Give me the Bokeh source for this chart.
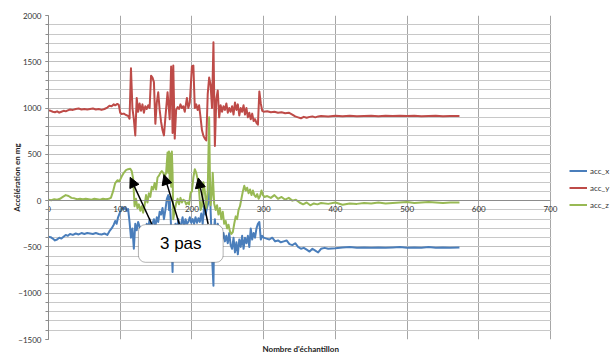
from bokeh.plotting import figure
from bokeh.models import (Range1d, SingleIntervalTicker, BoxAnnotation, Label,
                          Arrow, NormalHead, Title, Legend, LegendItem)
from bokeh.embed import file_html
from bokeh.resources import INLINE

# ---------------- data ----------------
acc_x_idx = [0, 3, 6, 9, 12, 15, 18, 21, 24, 27, 30, 34, 38, 42, 46, 50, 54, 58, 62, 66, 70, 74, 78, 82, 85, 88, 91, 93, 95, 97, 99,
             101, 103, 105, 107, 109, 111, 113, 115, 117, 119, 121, 123, 125, 127, 129, 131, 133, 135, 137, 139, 141, 143, 145, 147, 149,
             151, 153, 155, 157, 159, 161, 163, 165, 167, 168, 169, 171, 173, 174, 175, 177, 179, 181, 183, 185, 187, 189, 191, 193, 195,
             197, 199, 201, 203, 205, 207, 209, 211, 213, 215, 217, 219, 221, 223, 225, 226, 227, 228, 230, 231, 232, 234, 236, 238, 240,
             242, 244, 246, 248, 250, 252, 254, 256, 258, 260, 262, 264, 266, 268, 270, 272, 274, 276, 278, 280, 282, 284, 286, 288, 290,
             292, 294, 296, 298, 300, 304, 308, 312, 316, 320, 324, 328, 332, 336, 340, 344, 348, 352, 356, 360, 364, 368, 372, 376, 380,
             385, 390, 400, 410, 420, 430, 440, 450, 460, 470, 480, 490, 500, 510, 520, 530, 540, 550, 560, 573]
acc_x = [-390, -395, -410, -430, -420, -400, -410, -390, -370, -380, -360, -370, -355, -365, -350, -360, -350, -355, -360, -350,
         -360, -365, -355, -370, -330, -300, -260, -220, -250, -180, -140, -100, -70, -90, -75, -110, -90, -230, -400, -300, -520,
         -250, -320, -230, -280, -350, -520, -300, -420, -250, -300, -200, -350, -250, -200, -280, -180, -230, -120, -150, -80, -200,
         -100, 20, 60, -100, 40, -300, -770, -300, -400, -250, -320, -200, -280, -250, -180, -300, -200, -250, -230, -180, -240, -200,
         -250, -180, -240, -190, -230, -140, -250, -60, -150, -80, -20, 200, -100, -300, -600, -920, -300, -200, -400, -250, -380,
         -300, -420, -350, -440, -380, -460, -350, -480, -520, -400, -560, -450, -580, -420, -500, -380, -520, -400, -460, -380, -500,
         -300, -420, -350, -400, -300, -250, -230, -420, -380, -400, -410, -420, -400, -440, -430, -450, -440, -430, -470, -480, -460,
         -500, -520, -510, -530, -550, -520, -540, -560, -520, -510, -520, -515, -505, -500, -510, -505, -510, -505, -510, -505, -500,
         -510, -505, -510, -500, -510, -505, -510, -505]

acc_y_idx = [0, 3, 6, 9, 12, 15, 18, 21, 24, 27, 30, 34, 38, 42, 46, 50, 54, 58, 62, 66, 70, 74, 78, 82, 85, 88, 91, 93, 96, 98,
             100, 102, 105, 108, 111, 113, 115, 117, 119, 121, 123, 125, 127, 129, 131, 133, 135, 137, 139, 141, 143, 145, 147, 149,
             151, 153, 155, 157, 159, 161, 163, 166, 169, 171, 172, 173, 174, 176, 178, 180, 182, 184, 186, 188, 190, 193, 195, 197,
             200, 202, 204, 206, 208, 210, 212, 214, 216, 218, 220, 222, 224, 226, 228, 230, 232, 234, 236, 238, 240, 242, 244, 246,
             248, 250, 252, 254, 256, 258, 260, 262, 264, 266, 268, 270, 272, 274, 276, 278, 280, 282, 284, 286, 288, 290, 292, 294,
             296, 298, 300, 305, 310, 315, 320, 325, 330, 335, 340, 344, 348, 352, 356, 360, 364, 368, 372, 376, 380, 390, 400, 410,
             420, 430, 440, 450, 460, 470, 480, 490, 500, 510, 520, 530, 540, 550, 560, 573]
acc_y = [975, 970, 960, 955, 965, 950, 960, 970, 965, 975, 985, 980, 990, 995, 985, 990, 985, 990, 995, 985, 990, 980, 990, 1005,
         1025, 1020, 1040, 1030, 1045, 1035, 950, 935, 940, 925, 915, 885, 1430, 1000, 880, 705, 1110, 960, 1050, 970, 1040, 950,
         1020, 990, 1030, 1000, 1350, 1330, 1280, 830, 1060, 1170, 980, 850, 760, 705, 900, 1170, 880, 1450, 1200, 730, 1460, 670,
         980, 1010, 990, 1040, 1000, 1020, 960, 1110, 1000, 1060, 1450, 1460, 1000, 1040, 980, 1030, 900, 760, 700, 670, 650, 1150,
         1330, 1250, 1000, 1710, 590, 1100, 1190, 900, 1030, 960, 1020, 980, 1050, 950, 1000, 960, 1020, 930, 1060, 980, 1040, 920,
         1000, 960, 1030, 930, 1000, 900, 950, 880, 940, 860, 880, 840, 820, 1180, 1050, 970, 960, 965, 955, 960, 950, 955, 945, 950,
         930, 910, 900, 890, 905, 895, 905, 910, 900, 910, 915, 910, 918, 912, 918, 912, 915, 918, 912, 918, 915, 918, 915, 918, 912,
         915, 918, 912, 915, 915]

acc_z_idx = [0, 4, 8, 12, 16, 20, 24, 28, 32, 36, 40, 44, 48, 52, 56, 60, 64, 68, 72, 76, 80, 84, 87, 90, 93, 96, 99, 102, 105,
             108, 111, 114, 116, 118, 120, 122, 124, 126, 128, 130, 132, 134, 136, 138, 140, 142, 144, 146, 148, 150, 152, 154, 156,
             158, 160, 162, 164, 166, 167, 168, 169, 170, 171, 172, 173, 174, 176, 178, 180, 182, 184, 186, 188, 190, 192, 194, 196,
             198, 200, 202, 204, 206, 208, 210, 212, 214, 216, 218, 220, 222, 224, 225, 226, 228, 229, 231, 233, 235, 237, 239, 241,
             243, 245, 247, 249, 251, 253, 255, 257, 259, 261, 263, 265, 267, 269, 271, 273, 275, 277, 279, 281, 283, 285, 287, 289,
             291, 293, 295, 297, 299, 301, 305, 310, 315, 320, 325, 330, 335, 340, 345, 350, 355, 360, 365, 370, 375, 380, 390, 400,
             410, 420, 430, 440, 450, 460, 470, 480, 490, 500, 510, 520, 530, 540, 550, 560, 573]
acc_z = [10, 5, 15, 10, 20, 40, 60, 50, 30, 25, 15, 20, 15, 20, 15, 10, 20, 15, 10, 20, 15, 20, 30, 100, 190, 220, 210, 260, 300,
         330, 340, 345, 320, 240, -60, 20, -80, -40, -110, -60, -130, -50, 60, -20, 80, 40, 150, 120, 190, 120, 250, 270, 300, 320,
         300, 260, 300, 520, 300, 530, 220, 510, 150, 530, 300, -200, -100, -30, 20, -40, 30, -20, 10, 0, -40, -20, -40, 80, 100,
         250, 340, 300, 230, 100, -100, -60, 200, 100, -80, 100, 900, 300, -50, 90, 300, -30, -100, -50, -150, -80, -200, -120,
         -250, -220, -300, -260, -330, -360, -340, -250, -170, -200, -100, -60, 20, 100, 160, 110, 140, 80, 120, 60, 110, 60, 40,
         70, 20, 50, 110, 60, 40, 50, 30, 60, 20, 40, 10, 30, 0, 10, -20, -40, -20, -50, -30, -40, -25, -35, -20, -45, -30, -35,
         -25, -30, -20, -30, -25, -20, -15, -25, -20, -15, -20, -25, -20, -20]

series_names = ["acc_x", "acc_y", "acc_z"]
series_colors = ["#4a7ebb", "#be4b48", "#98b954"]

x_min, x_max = 0, 700
y_min, y_max = -1500, 2000
x_ticks_step = 100
y_ticks_step = 500

# ---------------- figure ----------------
FONT = "Lato"
X_VIEW_END = 792  # the frame runs to the right edge; the strip past 700 is masked white and holds the legend
p = figure(width=616, height=359, output_backend="svg", toolbar_location=None, title=None,
           x_range=Range1d(x_min, X_VIEW_END), y_range=Range1d(y_min, y_max),
           min_border_left=48, min_border_right=0, min_border_top=15, min_border_bottom=20,
           background_fill_color="white", border_fill_color="white")
p.outline_line_color = None

# axes
p.xaxis.ticker = SingleIntervalTicker(interval=x_ticks_step, num_minor_ticks=0)
p.xaxis.bounds = (x_min, x_max)
p.xaxis.fixed_location = 0
p.xaxis.axis_line_color = "#8c8c8c"
p.xaxis.major_tick_out = 0
p.xaxis.major_tick_in = 0
p.xaxis.minor_tick_out = 0
p.xaxis.major_label_standoff = 5
p.xaxis.major_label_text_font = FONT
p.xaxis.major_label_text_font_size = "8px"
p.xaxis.major_label_text_color = "#333333"

p.yaxis.ticker = SingleIntervalTicker(interval=y_ticks_step, num_minor_ticks=5)
p.yaxis.axis_line_color = "#8c8c8c"
p.yaxis.major_tick_line_color = "#8c8c8c"
p.yaxis.minor_tick_line_color = "#8c8c8c"
p.yaxis.major_tick_out = 3
p.yaxis.major_tick_in = 0
p.yaxis.minor_tick_out = 3
p.yaxis.minor_tick_in = 0
p.yaxis.major_label_standoff = 4
p.yaxis.major_label_text_font = FONT
p.yaxis.major_label_text_font_size = "8px"
p.yaxis.major_label_text_color = "#333333"
p.yaxis.axis_label = "Accélération en mg"
p.yaxis.axis_label_text_font = FONT
p.yaxis.axis_label_text_font_size = "8px"
p.yaxis.axis_label_text_font_style = "bold"
p.yaxis.axis_label_text_color = "#222222"
p.yaxis.axis_label_text_line_height = 1.0
p.yaxis.axis_label_standoff = -7

# x-axis title under the 0..700 plot area
p.add_layout(Title(text="Nombre d'échantillon", align="left", offset=214, text_font=FONT,
                   text_font_size="8px", text_font_style="bold", text_color="#222222",
                   standoff=4), "below")

# grids
p.xgrid.ticker = SingleIntervalTicker(interval=x_ticks_step, num_minor_ticks=0)
p.xgrid.grid_line_color = "#a6a6a6"
p.xgrid.grid_line_width = 1
p.ygrid.ticker = SingleIntervalTicker(interval=y_ticks_step, num_minor_ticks=5)
p.ygrid.grid_line_color = "#bfbfbf"
p.ygrid.minor_grid_line_color = "#c8c8c8"

# white mask over the strip right of the last column
p.add_layout(BoxAnnotation(left=x_max + 1, fill_color="white", fill_alpha=1, line_color=None, level="glyph"))

# lines
renderers = []
for idx, vals, col in [(acc_x_idx, acc_x, series_colors[0]),
                       (acc_y_idx, acc_y, series_colors[1]),
                       (acc_z_idx, acc_z, series_colors[2])]:
    renderers.append(p.line(idx, vals, line_color=col, line_width=2, line_join="round"))

legend = Legend(items=[LegendItem(label=n, renderers=[r]) for n, r in zip(series_names, renderers)],
                location=(521, 128), padding=0, margin=0, spacing=4, glyph_width=18, glyph_height=13,
                label_height=13, label_standoff=3, label_text_font=FONT, label_text_font_size="8px",
                label_text_color="#333333", border_line_color=None, background_fill_alpha=0)
p.add_layout(legend, "center")

# callout "3 pas"
p.add_layout(BoxAnnotation(left=125.4, right=243.5, top=-259, bottom=-666,
                           fill_color="white", fill_alpha=1, line_color="black",
                           line_width=1, border_radius=7, level="overlay"))
p.add_layout(Label(x=184.4, y=-464, text="3 pas", text_align="center", text_baseline="middle",
                   text_font="Liberation Sans", text_font_size="17px", text_color="black",
                   level="overlay"))
arrows = [(144, -252, 113.9, 252), (182.4, -252, 161, 281), (222.6, -252, 208.8, 245)]
for xs, ys, xe, ye in arrows:
    p.add_layout(Arrow(x_start=xs, y_start=ys, x_end=xe, y_end=ye, line_width=1.5, line_color="black",
                       end=NormalHead(size=10, fill_color="black", line_color="black"), level="overlay"))

open("out.html", "w").write(file_html(p, INLINE))
